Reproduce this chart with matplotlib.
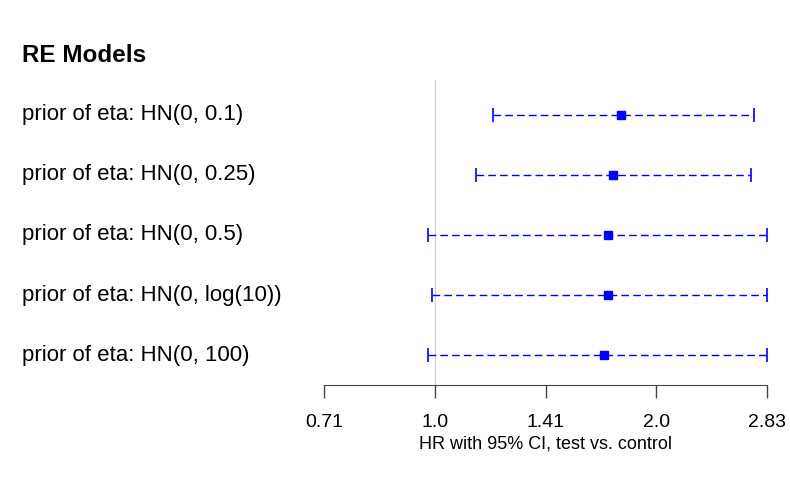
import matplotlib
matplotlib.use("Agg")
import matplotlib.pyplot as plt
from matplotlib.transforms import blended_transform_factory
import numpy as np

plt.rcParams["font.family"] = ["Liberation Sans", "DejaVu Sans"]

# data (hazard ratios)
labels = [
    "prior of eta: HN(0, 0.1)",
    "prior of eta: HN(0, 0.25)",
    "prior of eta: HN(0, 0.5)",
    "prior of eta: HN(0, log(10))",
    "prior of eta: HN(0, 100)",
]
hr = [1.79, 1.745, 1.718, 1.718, 1.697]
lower = [1.20, 1.137, 0.978, 0.991, 0.978]
upper = [2.713, 2.687, 2.83, 2.83, 2.83]
tick_vals = [2 ** -0.5, 1.0, 2 ** 0.5, 2.0, 2 ** 1.5]
tick_labels = ["0.71", "1.0", "1.41", "2.0", "2.83"]

W, H = 790, 488
fig = plt.figure(figsize=(W / 100, H / 100), dpi=100)

# axes placed in pixel terms: x from 324 to 767, y from 80 to 385
left, right, top, bottom = 324, 767, 80, 385
ax = fig.add_axes([left / W, 1 - bottom / H, (right - left) / W, (bottom - top) / H])
ax.set_xscale("log", base=2)
ax.set_xlim(tick_vals[0], tick_vals[-1])

n = len(labels)
ypos = np.arange(n)[::-1]  # first row at top
ax.set_ylim(-0.5, n - 1 + 35 / 60)

ax.axvline(1.0, color="#d3d3d3", linewidth=1, zorder=0)

hr_a = np.array(hr)
err = [hr_a - np.array(lower), np.array(upper) - hr_a]
cont = ax.errorbar(hr, ypos, xerr=err, fmt="s", color="#0000ff", markersize=5.8,
                   elinewidth=1, capsize=4.8, capthick=1.2, clip_on=False)
for lc in cont[2]:
    lc.set_linestyle((0, (5.5, 3)))

trans = blended_transform_factory(fig.transFigure, ax.transData)
for y, lab in zip(ypos, labels):
    ax.text(22 / W, y, lab, transform=trans, ha="left", va="center", fontsize=16)

fig.text(22 / W, 1 - 56 / H, "RE Models", ha="left", va="center", fontsize=17.5, weight="bold")

for s in ["top", "right", "left"]:
    ax.spines[s].set_visible(False)
ax.spines["bottom"].set_color("#444444")
ax.set_yticks([])
ax.set_xticks(tick_vals)
ax.set_xticklabels(tick_labels)
ax.minorticks_off()
ax.tick_params(axis="x", length=9, width=1, color="#444444", labelsize=14, pad=12)
ax.set_xlabel("HR with 95% CI, test vs. control", fontsize=13, labelpad=3)

fig.savefig("out.png", dpi=100, facecolor="white")
